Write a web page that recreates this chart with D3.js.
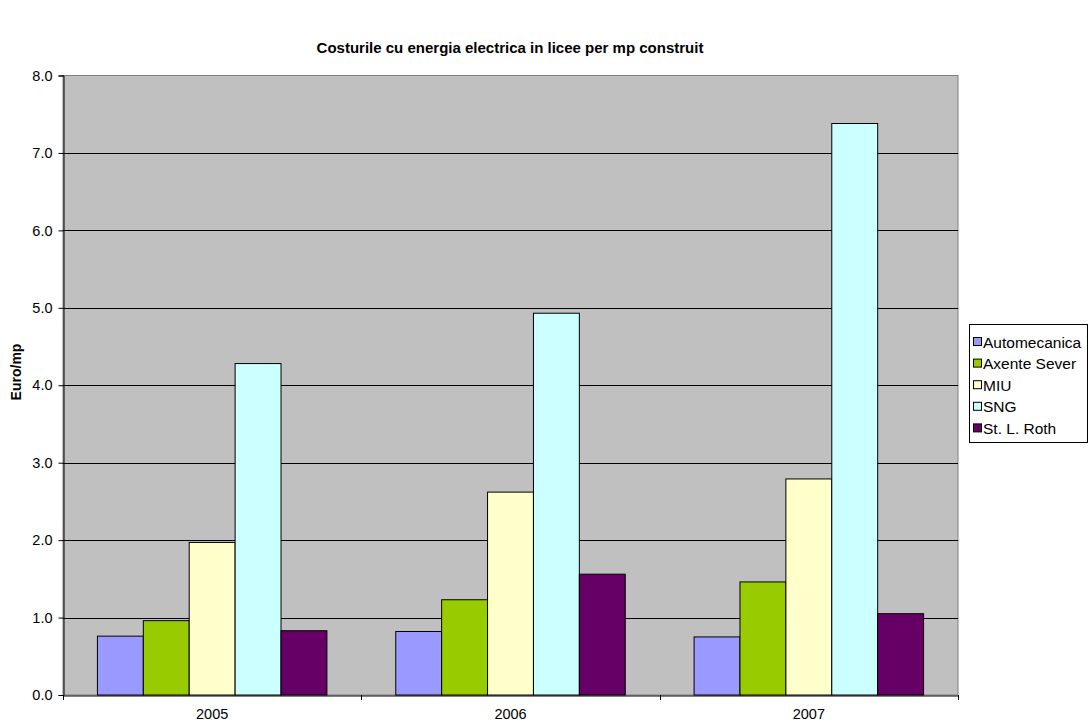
<!DOCTYPE html>
<html><head><meta charset="utf-8">
<script src="https://cdn.jsdelivr.net/npm/d3@7"></script>
<style>body{margin:0;background:#fff}svg{display:block}text{font-family:"Liberation Sans",Arial,sans-serif}</style>
</head><body><svg id="c" width="1091" height="727"></svg>
<script>
const title = "Costurile cu energia electrica in licee per mp construit";
const yLabel = "Euro/mp";
const years = ["2005", "2006", "2007"];
const series = ["Automecanica", "Axente Sever", "MIU", "SNG", "St. L. Roth"];
const colors = ["#9999FF", "#99CC00", "#FFFFCC", "#CCFFFF", "#660066"];
const automecanica = [0.76, 0.82, 0.75];
const axenteSever = [0.96, 1.23, 1.46];
const miu = [1.97, 2.62, 2.79];
const sng = [4.28, 4.93, 7.38];
const roth = [0.83, 1.56, 1.05];
const yTicks = [0,1,2,3,4,5,6,7,8];
const values = [automecanica, axenteSever, miu, sng, roth];

const svg = d3.select("#c");
const L = 63, R = 958, T = 75.5, B = 695;
const x0 = d3.scaleBand().domain(years).range([L, R]).paddingInner(0).paddingOuter(0);
const bw = x0.bandwidth() / 6.5;
const x1 = d3.scaleBand().domain(series).range([0.75*bw, 5.75*bw]).padding(0);
const y = d3.scaleLinear().domain([0, 8]).range([B, T]);

svg.append("rect").attr("x", L).attr("y", T).attr("width", R-L).attr("height", B-T)
  .attr("fill", "#C0C0C0").attr("stroke", "#808080").attr("stroke-width", 1);

svg.append("g").selectAll("line").data(yTicks.slice(1, -1)).join("line")
  .attr("x1", L).attr("x2", R).attr("y1", d => Math.round(y(d))+0.5).attr("y2", d => Math.round(y(d))+0.5)
  .attr("stroke", "#000").attr("stroke-width", 1);

const g = svg.append("g");
years.forEach((yr, i) => {
  series.forEach((s, j) => {
    g.append("rect")
      .attr("x", x0(yr) + x1(s)).attr("width", x1.bandwidth())
      .attr("y", y(values[j][i])).attr("height", B - y(values[j][i]))
      .attr("fill", colors[j]).attr("stroke", "#000").attr("stroke-width", 1);
  });
});

// y axis
const ya = svg.append("g").attr("transform", `translate(${L+0.5},0)`)
  .call(d3.axisLeft(y).tickValues(yTicks).tickFormat(d3.format(".1f")).tickSize(5).tickPadding(6));
ya.select(".domain").attr("stroke", "#000");
ya.selectAll("text").attr("font-size", 14.5).attr("font-family", "Liberation Sans, Arial, sans-serif").attr("fill", "#000");
// x axis
const xa = svg.append("g").attr("transform", `translate(0,${B+0.5})`)
  .call(d3.axisBottom(x0).tickSize(0).tickPadding(13));
xa.select(".domain").attr("stroke", "#000");
xa.selectAll("text").attr("font-size", 14.5).attr("font-family", "Liberation Sans, Arial, sans-serif").attr("fill", "#000");
svg.append("g").selectAll("line").data(years.map(d => x0(d)).concat([R])).join("line")
  .attr("x1", d => Math.round(d)+0.5).attr("x2", d => Math.round(d)+0.5).attr("y1", B).attr("y2", B+5)
  .attr("stroke", "#000");

svg.append("text").attr("x", 510).attr("y", 53).attr("text-anchor", "middle")
  .attr("font-size", 15).attr("font-weight", "bold").text(title);
svg.append("text").attr("transform", "translate(21,372) rotate(-90)").attr("text-anchor", "middle")
  .attr("font-size", 14).attr("font-weight", "bold").text(yLabel);

// legend
const lg = svg.append("g");
lg.append("rect").attr("x", 969.5).attr("y", 324.5).attr("width", 118).attr("height", 118)
  .attr("fill", "#fff").attr("stroke", "#000");
series.forEach((s, j) => {
  const cy = 342 + j*21.6;
  lg.append("rect").attr("x", 973.5).attr("y", cy-4.5).attr("width", 8).attr("height", 8)
    .attr("fill", colors[j]).attr("stroke", "#000");
  lg.append("text").attr("x", 983).attr("y", cy+5.5).attr("font-size", 15.5).text(s);
});
</script></body></html>
